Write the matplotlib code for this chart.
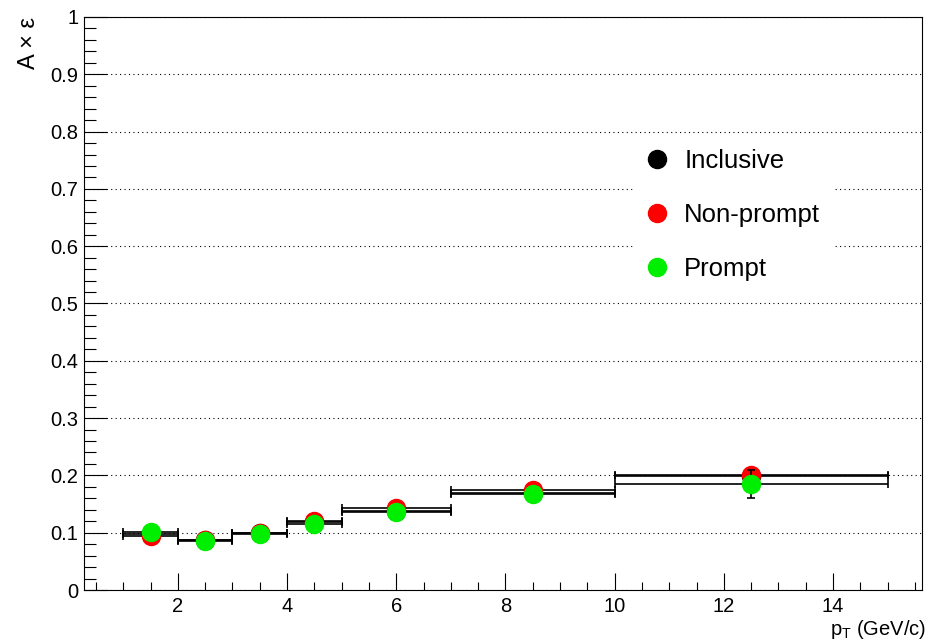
import matplotlib
matplotlib.use("Agg")
import matplotlib.pyplot as plt
from matplotlib.lines import Line2D
from matplotlib.ticker import MultipleLocator, FormatStrFormatter

# --- données ---
pt_centre = [1.5, 2.5, 3.5, 4.5, 6.0, 8.5, 12.5]
pt_demi_largeur = [0.5, 0.5, 0.5, 0.5, 1.0, 1.5, 2.5]

acc_inclusive = [0.098, 0.087, 0.099, 0.118, 0.1375, 0.169, 0.199]
acc_nonprompt = [0.095, 0.088, 0.099, 0.121, 0.1437, 0.1745, 0.201]
acc_prompt = [0.101, 0.086, 0.098, 0.115, 0.1367, 0.168, 0.1845]

err_inclusive = [0.003, 0.003, 0.003, 0.003, 0.004, 0.004, 0.006]
err_nonprompt = [0.003, 0.003, 0.003, 0.003, 0.004, 0.004, 0.005]
err_prompt = [0.003, 0.003, 0.003, 0.003, 0.004, 0.005, 0.0245]

noms = ["Inclusive", "Non-prompt", "Prompt"]
couleurs = ["black", "#ff0000", "#00ee00"]

plt.rcParams['font.family'] = ['Liberation Sans', 'DejaVu Sans']
plt.rcParams['mathtext.fontset'] = 'custom'
plt.rcParams['mathtext.rm'] = 'Liberation Sans'
plt.rcParams['mathtext.it'] = 'Liberation Sans'

fig = plt.figure(figsize=(9.28, 6.44), dpi=100)
ax = fig.add_axes([84 / 928, 1 - 590 / 644, (922 - 84) / 928, (590 - 17) / 644])

series = [acc_inclusive, acc_nonprompt, acc_prompt]
erreurs = [err_inclusive, err_nonprompt, err_prompt]
for i, (vals, errs, coul) in enumerate(zip(series, erreurs, couleurs)):
    ax.errorbar(pt_centre, vals, xerr=pt_demi_largeur, yerr=errs,
                fmt='o', color=coul, mec=coul, ecolor='black', elinewidth=1.2,
                capsize=3, capthick=1.2, markersize=13,
                zorder=3 + i)

ax.set_xlim(0.28, 15.63)
ax.set_ylim(0, 1)

ax.xaxis.set_major_locator(MultipleLocator(2))
ax.xaxis.set_minor_locator(MultipleLocator(0.5))
ax.yaxis.set_major_locator(MultipleLocator(0.1))
ax.yaxis.set_minor_locator(MultipleLocator(0.02))
ax.yaxis.set_major_formatter(FormatStrFormatter('%g'))
ax.xaxis.set_major_formatter(FormatStrFormatter('%g'))

ax.tick_params(axis='both', which='both', direction='in', width=0.8,
               labelsize=14.5, top=False, right=False)
ax.tick_params(axis='x', which='major', length=12.2, pad=5)
ax.tick_params(axis='x', which='minor', length=6.1)
ax.tick_params(axis='y', which='major', length=16.5, pad=4)
ax.tick_params(axis='y', which='minor', length=8.3)
for s in ax.spines.values():
    s.set_linewidth(0.8)

# grille pointillée (style ROOT)
ax.yaxis.grid(True, which='major', linestyle=(0, (1, 3)), color='black', linewidth=0.8)
ax.set_axisbelow(True)

ax.set_ylabel("A × ε", fontsize=17, loc='top')
ax.yaxis.set_label_coords(-0.053, 1.0)
ax.set_xlabel(r"$\mathrm{p}_{\mathrm{T}}$ (GeV/c)", fontsize=14.5, loc='right')
ax.xaxis.set_label_coords(1.005, -0.048)

poignees = [Line2D([], [], linestyle='none', marker='o', markersize=13,
                   mec=c, color=c) for c in couleurs]
leg = ax.legend(poignees, noms, loc='upper left', bbox_to_anchor=(0.655, 0.79),
                fontsize=18.5, frameon=True, fancybox=False, framealpha=1,
                edgecolor='white', borderpad=0.45, labelspacing=1.16,
                handlelength=1.0, handletextpad=0.55, borderaxespad=0)
leg.set_zorder(10)

fig.savefig("out.png", dpi=100)
